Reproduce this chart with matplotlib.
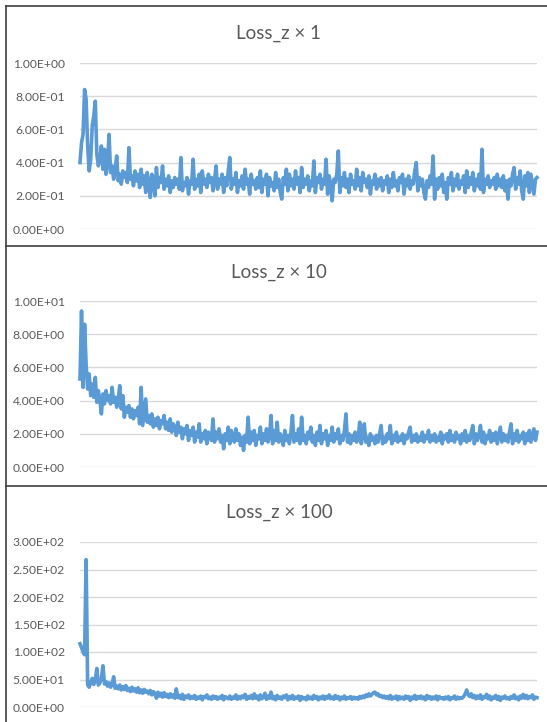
import matplotlib
matplotlib.use("Agg")
import matplotlib.pyplot as plt
from matplotlib.lines import Line2D
from matplotlib.ticker import FuncFormatter

plt.rcParams['font.family'] = ['Lato', 'DejaVu Sans']

titles = ["Loss_z \u00d7 1", "Loss_z \u00d7 10", "Loss_z \u00d7 100"]
y_ticks_1 = [0.0, 0.2, 0.4, 0.6, 0.8, 1.0]
y_ticks_2 = [0.0, 2.0, 4.0, 6.0, 8.0, 10.0]
y_ticks_3 = [0.0, 50.0, 100.0, 150.0, 200.0, 250.0, 300.0]

loss_x1 = [
    0.40, 0.52, 0.57, 0.84, 0.78, 0.50, 0.35, 0.42, 0.62, 0.68,
    0.77, 0.45, 0.38, 0.42, 0.50, 0.36, 0.48, 0.33, 0.40, 0.57,
    0.34, 0.38, 0.30, 0.36, 0.44, 0.29, 0.33, 0.27, 0.35, 0.31,
    0.34, 0.28, 0.49, 0.30, 0.32, 0.26, 0.35, 0.29, 0.33, 0.25,
    0.36, 0.27, 0.32, 0.22, 0.34, 0.27, 0.19, 0.33, 0.28, 0.20,
    0.37, 0.25, 0.31, 0.28, 0.38, 0.24, 0.30, 0.26, 0.32, 0.22,
    0.29, 0.25, 0.31, 0.27, 0.30, 0.24, 0.43, 0.23, 0.28, 0.26,
    0.31, 0.21, 0.29, 0.27, 0.42, 0.24, 0.30, 0.26, 0.33, 0.22,
    0.35, 0.27, 0.30, 0.25, 0.33, 0.28, 0.31, 0.23, 0.29, 0.38,
    0.24, 0.30, 0.27, 0.33, 0.22, 0.31, 0.26, 0.35, 0.43, 0.24,
    0.30, 0.27, 0.34, 0.22, 0.29, 0.26, 0.32, 0.24, 0.36, 0.27,
    0.30, 0.21, 0.33, 0.27, 0.29, 0.24, 0.31, 0.25, 0.35, 0.22,
    0.30, 0.27, 0.33, 0.20, 0.31, 0.26, 0.28, 0.23, 0.34, 0.25,
    0.30, 0.22, 0.18, 0.31, 0.27, 0.36, 0.23, 0.33, 0.26, 0.30,
    0.24, 0.35, 0.27, 0.31, 0.22, 0.37, 0.25, 0.30, 0.27, 0.32,
    0.23, 0.29, 0.26, 0.41, 0.22, 0.31, 0.28, 0.33, 0.24, 0.30,
    0.27, 0.42, 0.21, 0.32, 0.26, 0.17, 0.30, 0.28, 0.33, 0.47,
    0.22, 0.31, 0.26, 0.34, 0.25, 0.30, 0.22, 0.33, 0.27, 0.29,
    0.24, 0.36, 0.26, 0.31, 0.23, 0.34, 0.28, 0.30, 0.25, 0.32,
    0.21, 0.29, 0.27, 0.33, 0.24, 0.30, 0.26, 0.31, 0.23, 0.29,
    0.27, 0.32, 0.22, 0.30, 0.25, 0.34, 0.26, 0.29, 0.23, 0.31,
    0.28, 0.33, 0.21, 0.30, 0.26, 0.32, 0.24, 0.29, 0.27, 0.35,
    0.40, 0.23, 0.31, 0.26, 0.30, 0.22, 0.18, 0.29, 0.25, 0.32,
    0.27, 0.44, 0.18, 0.30, 0.24, 0.31, 0.26, 0.33, 0.22, 0.28,
    0.18, 0.31, 0.27, 0.34, 0.23, 0.30, 0.26, 0.33, 0.24, 0.29,
    0.27, 0.32, 0.22, 0.35, 0.25, 0.31, 0.27, 0.34, 0.23, 0.30,
    0.26, 0.33, 0.24, 0.48, 0.22, 0.30, 0.27, 0.32, 0.25, 0.29,
    0.27, 0.31, 0.24, 0.33, 0.26, 0.30, 0.25, 0.32, 0.23, 0.29,
    0.18, 0.30, 0.26, 0.33, 0.37, 0.24, 0.31, 0.27, 0.35, 0.23,
    0.18, 0.32, 0.26, 0.34, 0.22, 0.33, 0.27, 0.21, 0.30, 0.31,
]

loss_x10 = [
    5.3, 9.4, 4.8, 8.6, 6.2, 4.7, 5.6, 4.3, 5.0, 4.2,
    5.4, 3.9, 4.6, 4.0, 3.2, 4.4, 3.8, 4.6, 4.0, 4.3,
    3.8, 4.8, 3.9, 4.2, 3.6, 4.1, 4.9, 3.5, 4.3, 3.0,
    3.6, 3.3, 3.7, 3.0, 3.5, 2.9, 3.4, 3.1, 3.6, 2.6,
    4.8, 2.5, 3.3, 4.1, 2.7, 3.1, 2.6, 3.2, 2.4, 2.9,
    2.5, 3.0, 2.3, 2.8, 2.6, 3.1, 2.3, 2.7, 2.2, 2.9,
    2.1, 2.6, 2.4, 1.9, 2.7, 2.1, 2.4, 1.7, 2.3, 2.0,
    2.5, 1.6, 2.2, 1.9, 2.4, 1.5, 2.1, 1.8, 2.6, 1.5,
    2.0, 1.7, 2.2, 1.4, 2.1, 1.8, 1.6, 2.9, 1.5, 2.1,
    1.7, 2.3, 1.5, 1.9, 1.1, 2.0, 1.6, 2.4, 1.4, 2.2,
    1.8, 1.5, 2.3, 1.6, 2.0, 1.3, 1.8, 1.0, 1.9, 1.5,
    3.0, 1.4, 2.1, 1.6, 2.2, 1.3, 1.9, 1.7, 2.4, 1.4,
    2.0, 1.6, 2.3, 1.5, 1.9, 3.1, 1.4, 2.2, 1.6, 2.7,
    1.5, 2.0, 1.7, 1.3, 2.2, 1.6, 1.9, 1.4, 2.1, 3.1,
    1.5, 2.0, 1.6, 2.3, 1.4, 3.0, 1.6, 1.9, 1.4, 2.1,
    1.7, 2.4, 1.5, 1.9, 1.3, 2.1, 1.6, 2.5, 1.4, 2.0,
    1.7, 2.2, 1.3, 1.9, 1.6, 2.4, 1.5, 2.0, 1.7, 2.3,
    1.4, 1.9, 1.6, 2.2, 3.2, 1.5, 2.0, 1.4, 1.9, 1.6,
    2.1, 1.5, 1.8, 2.7, 1.4, 1.9, 2.6, 1.5, 1.8, 1.3,
    2.0, 1.6, 1.8, 1.4, 1.9, 1.5, 2.0, 2.5, 1.4, 1.8,
    1.5, 2.0, 1.7, 2.5, 1.4, 1.9, 1.6, 2.1, 1.5, 1.8,
    1.6, 2.0, 1.4, 1.9, 1.7, 2.1, 2.4, 1.5, 1.9, 1.6,
    2.0, 1.5, 1.8, 1.6, 2.1, 1.5, 1.9, 1.7, 2.2, 1.5,
    1.9, 1.6, 2.0, 1.5, 1.8, 1.6, 2.1, 1.4, 1.9, 1.7,
    2.0, 1.5, 2.2, 1.6, 1.9, 1.5, 2.1, 1.7, 1.9, 1.4,
    2.0, 1.6, 2.2, 1.5, 1.9, 1.6, 2.1, 2.5, 1.4, 2.0,
    1.6, 1.9, 2.5, 1.5, 2.1, 1.4, 1.9, 1.7, 2.2, 1.5,
    2.0, 1.6, 2.1, 1.4, 1.9, 2.4, 1.5, 2.0, 1.6, 1.9,
    1.5, 2.1, 2.6, 1.4, 2.0, 1.6, 2.2, 1.5, 1.9, 1.7,
    2.1, 1.4, 2.0, 1.6, 2.2, 1.5, 1.9, 2.3, 1.6, 2.1,
]

loss_x100 = [
    115, 108, 100, 95, 268, 40, 36, 45, 52, 41,
    48, 70, 40, 44, 52, 75, 42, 46, 38, 44,
    36, 41, 55, 34, 38, 33, 40, 31, 37, 32,
    39, 30, 34, 28, 36, 29, 33, 27, 35, 26,
    31, 25, 32, 27, 29, 24, 30, 22, 28, 25,
    16, 27, 20, 25, 18, 26, 19, 23, 17, 24,
    18, 22, 16, 33, 17, 21, 15, 23, 14, 20,
    17, 22, 15, 19, 16, 21, 14, 18, 16, 20,
    13, 19, 17, 22, 15, 18, 14, 20, 16, 19,
    14, 18, 16, 21, 13, 19, 17, 15, 20, 14,
    18, 16, 22, 14, 19, 15, 20, 17, 23, 14,
    19, 16, 21, 15, 24, 16, 20, 13, 22, 15,
    18, 25, 14, 20, 16, 27, 15, 19, 13, 21,
    16, 18, 14, 20, 17, 22, 13, 19, 15, 21,
    14, 18, 16, 20, 12, 19, 15, 17, 13, 20,
    15, 18, 14, 21, 16, 19, 13, 18, 15, 20,
    14, 19, 16, 22, 15, 18, 14, 21, 16, 19,
    13, 18, 15, 20, 14, 17, 16, 19, 14, 18,
    15, 17, 14, 19, 16, 20, 17, 22, 19, 24,
    20, 23, 26, 27, 22, 24, 19, 21, 17, 20,
    16, 19, 15, 21, 14, 18, 16, 20, 13, 19,
    15, 18, 14, 20, 16, 19, 12, 18, 15, 21,
    14, 19, 16, 20, 15, 18, 13, 21, 16, 19,
    14, 18, 15, 20, 13, 19, 16, 17, 14, 18,
    15, 19, 13, 17, 16, 20, 14, 18, 15, 17,
    16, 19, 24, 31, 22, 19, 24, 17, 21, 15,
    20, 16, 22, 14, 19, 17, 23, 15, 20, 13,
    18, 16, 21, 14, 19, 12, 18, 16, 20, 15,
    17, 14, 19, 16, 22, 15, 18, 13, 20, 16,
    23, 16, 21, 15, 19, 17, 22, 14, 18, 17,
]

W, H = 547, 722
fig = plt.figure(figsize=(W / 100, H / 100), dpi=100)
fig.patch.set_facecolor('white')

# axes boxes in pixel coordinates (left, top, right, bottom)
boxes = [(80, 63, 537, 229), (80, 301, 537, 467), (80, 542, 537, 707)]
title_y = [33, 272, 512]
series = [loss_x1, loss_x10, loss_x100]
ticks = [y_ticks_1, y_ticks_2, y_ticks_3]

line_color = '#5B9BD5'
text_color = '#595959'
grid_color = '#D9D9D9'

for k in range(3):
    l, t, r, b = boxes[k]
    ax = fig.add_axes([l / W, 1 - b / H, (r - l) / W, (b - t) / H])
    ys = series[k]
    xs = list(range(len(ys)))
    ax.plot(xs, ys, color=line_color, lw=2.6, solid_joinstyle='round',
            zorder=3, clip_on=False)
    ax.set_xlim(0, len(ys) - 1)
    ax.set_ylim(ticks[k][0], ticks[k][-1])
    ax.set_yticks(ticks[k])
    ax.yaxis.set_major_formatter(FuncFormatter(lambda v, p: "{:.2E}".format(v)))
    ax.set_xticks([])
    for s in ax.spines.values():
        s.set_visible(False)
    ax.grid(axis='y', color=grid_color, lw=1.0, zorder=0)
    ax.tick_params(axis='y', length=0, pad=11, labelsize=8.7, labelcolor=text_color)
    fig.text(279 / W, 1 - title_y[k] / H, titles[k], ha='center', va='center',
             fontsize=13.5, color=text_color)

# Excel-like chart borders
border_color = '#404040'
fig.add_artist(Line2D([6 / W, 6 / W], [1 - 6 / H, 0], transform=fig.transFigure,
                      color=border_color, lw=1.2))
for yy in [6, 246, 486]:
    fig.add_artist(Line2D([6 / W, 1], [1 - yy / H, 1 - yy / H], transform=fig.transFigure,
                          color=border_color, lw=1.2))

fig.savefig('out.png', dpi=100, facecolor='white')
